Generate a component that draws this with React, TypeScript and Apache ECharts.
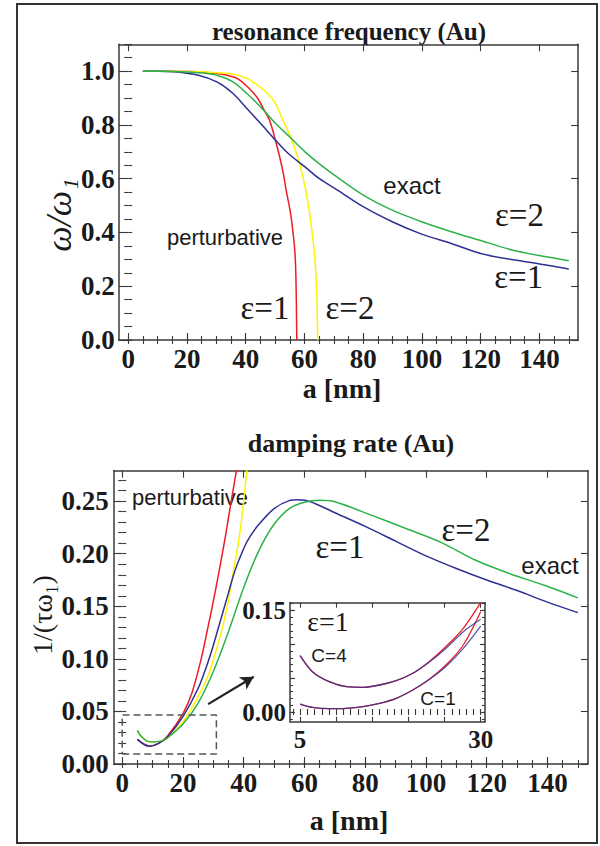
import React, { useEffect, useRef } from "react";
import * as echarts from "echarts";

// ---------- data: resonance frequency (top panel) ----------
const freqPertEps1: [number, number][] = [
  [5, 1], [10, 1], [15, 1], [20, 0.999], [25, 0.997], [30.2, 0.991], [35.7, 0.979], [38, 0.967],
  [40.4, 0.944], [43.9, 0.902], [46.3, 0.855], [48.1, 0.818], [49.2, 0.78], [50.4, 0.731],
  [51.6, 0.68], [52.8, 0.62], [53.9, 0.55], [55.1, 0.483], [55.9, 0.42], [56.7, 0.335],
  [57.1, 0.235], [57.4, 0],
];
const freqPertEps2: [number, number][] = [
  [5, 1], [15, 1], [25, 0.998], [30.2, 0.994], [35.7, 0.989], [40.4, 0.973], [46.3, 0.929],
  [49.8, 0.886], [52.2, 0.83], [54.5, 0.775], [56.5, 0.72], [58, 0.67], [59.2, 0.62],
  [60.4, 0.558], [61.6, 0.483], [62.8, 0.384], [63.6, 0.297], [64.2, 0.173], [64.5, 0],
];
const freqExactEps1: [number, number][] = [
  [5, 1], [10, 1], [15.7, 0.998], [23.9, 0.985], [30.2, 0.96], [35.7, 0.917], [40.4, 0.861],
  [45.1, 0.805], [50.2, 0.743], [54.5, 0.694], [60.2, 0.644], [65.1, 0.6], [70.2, 0.565],
  [80, 0.496], [89.9, 0.44], [99.9, 0.394], [110, 0.359], [120, 0.322], [130, 0.3],
  [140, 0.283], [150, 0.264],
];
const freqExactEps2: [number, number][] = [
  [5, 1], [15, 0.999], [20, 0.997], [25, 0.993], [30.2, 0.985], [35.7, 0.96], [40.4, 0.917],
  [45.1, 0.867], [50.2, 0.805], [55, 0.755], [60.2, 0.7], [65.1, 0.655], [70.2, 0.613],
  [80, 0.539], [89.9, 0.483], [99.9, 0.44], [110, 0.403], [120, 0.37], [130, 0.337],
  [140, 0.314], [150, 0.295],
];

// ---------- data: damping rate (bottom panel) ----------
const dampPertEps1: [number, number][] = [
  [5, 0.0234], [7, 0.019], [9, 0.017], [12, 0.0196], [15, 0.027], [20, 0.048], [23, 0.068],
  [26, 0.1], [28, 0.127], [30, 0.155], [32, 0.185], [34, 0.217], [36, 0.252], [37.6, 0.279],
  [38.5, 0.295],
];
const dampPertEps2: [number, number][] = [
  [5, 0.032], [6, 0.027], [8, 0.022], [10, 0.021], [13, 0.022], [15, 0.025], [20, 0.04],
  [25, 0.064], [28, 0.082], [30, 0.099], [33, 0.13], [35, 0.156], [37, 0.19], [38.5, 0.215],
  [40, 0.25], [41, 0.279], [41.6, 0.295],
];
const dampExactEps1: [number, number][] = [
  [5, 0.0234], [7, 0.019], [9, 0.017], [12, 0.0196], [15, 0.026], [20, 0.045], [25, 0.072],
  [28, 0.095], [30, 0.113], [33, 0.143], [35, 0.163], [37, 0.183], [40, 0.205], [42, 0.216],
  [45, 0.228], [50, 0.243], [55, 0.2505], [58, 0.2513], [62, 0.2495], [70, 0.239], [80, 0.226],
  [90, 0.212], [100, 0.198], [110, 0.186], [120, 0.175], [130, 0.165], [140, 0.154], [150, 0.144],
];
const dampExactEps2: [number, number][] = [
  [5, 0.032], [6, 0.027], [8, 0.022], [10, 0.021], [13, 0.022], [15, 0.025], [20, 0.038],
  [25, 0.058], [30, 0.088], [35, 0.126], [40, 0.168], [45, 0.203], [50, 0.228], [55, 0.243],
  [60, 0.249], [65, 0.2509], [70, 0.2495], [82, 0.2367], [93.4, 0.224], [104.8, 0.211],
  [116.2, 0.194], [127.6, 0.181], [139, 0.17], [150, 0.158],
];
const zoomBox: [number, number][] = [[0, 0.0095], [31, 0.0095], [31, 0.0466], [0, 0.0466], [0, 0.0095]];
const arrowFrom: [number, number] = [28.3, 0.057];
const arrowTo: [number, number] = [43.3, 0.083];

// ---------- data: inset (eps = 1) ----------
const insetC4Pert: [number, number][] = [
  [5, 0.0832], [6.7, 0.0596], [9.03, 0.0448], [11.4, 0.0374], [13.7, 0.0365], [16, 0.0399],
  [18.3, 0.0463], [20.6, 0.0572], [22.9, 0.0748], [25.3, 0.098], [27.6, 0.1237], [30, 0.1615],
];
const insetC4Exact: [number, number][] = [
  [5, 0.0832], [6.7, 0.0596], [9.03, 0.0448], [11.4, 0.0374], [13.7, 0.0365], [16, 0.0399],
  [18.3, 0.0463], [20.6, 0.0572], [22.9, 0.0738], [25.3, 0.095], [27.6, 0.1187], [30, 0.137],
];
const insetC1Pert: [number, number][] = [
  [5, 0.0118], [6.7, 0.0069], [9.03, 0.0049], [11.4, 0.0054], [13.7, 0.0079], [16, 0.0128],
  [18.3, 0.0202], [20.6, 0.0325], [22.9, 0.0483], [25.3, 0.0705], [27.6, 0.099], [30, 0.148],
];
const insetC1Exact: [number, number][] = [
  [5, 0.0118], [6.7, 0.0069], [9.03, 0.0049], [11.4, 0.0054], [13.7, 0.0079], [16, 0.0128],
  [18.3, 0.0202], [20.6, 0.0325], [22.9, 0.0483], [25.3, 0.0685], [27.6, 0.094], [30, 0.127],
];

// ---------- ticks ----------
const aTicks = [0, 20, 40, 60, 80, 100, 120, 140];
const freqTicks = [0, 0.2, 0.4, 0.6, 0.8, 1.0];
const dampTicks = [0, 0.05, 0.1, 0.15, 0.2, 0.25];
const insetXLabels = [5, 30];
const insetXMajor = [5, 10, 15, 20, 25, 30];
const insetYLabels = [0, 0.15];
const insetYMajor = [0, 0.05, 0.1, 0.15];

const steps = (from: number, to: number, step: number) => {
  const out: number[] = [];
  const n = Math.round((to - from) / step);
  for (let i = 0; i <= n; i++) out.push(Math.round((from + i * step) * 10000) / 10000);
  return out;
};

const SERIF = "'Liberation Serif','Times New Roman',Times,serif";
const SANS = "'Liberation Sans',Arial,Helvetica,sans-serif";
const FRAME = "#3a3a3a";
const RED = "#ee1c24";
const YELLOW = "#fff200";
const GREEN = "#2db34a";
const BLUE = "#2e3192";

function axisSet(
  dim: "x" | "y", gridIndex: number, min: number, max: number,
  majors: number[], minors: number[], labels: number[], fmt: (v: number) => string,
  fontSize: number, majorLen: number, minorLen: number, margin: number
) {
  const pos = dim === "x" ? ["bottom", "top"] : ["left", "right"];
  const base = {
    type: "value", gridIndex, min, max, splitLine: { show: false },
    axisLine: { show: true, onZero: false, lineStyle: { color: FRAME, width: 1.5 } },
  };
  const tick = (vals: number[], len: number) => ({
    show: true, inside: true, length: len, customValues: vals, lineStyle: { color: FRAME, width: 1.1 },
  });
  return [
    {
      ...base, position: pos[0], axisTick: tick(majors, majorLen),
      axisLabel: {
        show: true, customValues: labels, formatter: fmt, fontFamily: SERIF, fontWeight: "bold",
        fontSize, color: "#1a1a1a", margin,
      },
    },
    { ...base, position: pos[0], axisLine: { show: false }, axisTick: tick(minors, minorLen), axisLabel: { show: false } },
    { ...base, position: pos[1], axisTick: tick(majors, majorLen), axisLabel: { show: false } },
    { ...base, position: pos[1], axisLine: { show: false }, axisTick: tick(minors, minorLen), axisLabel: { show: false } },
  ];
}

function curve(data: [number, number][], color: string, xi: number, width = 1.5, opacity = 1) {
  return {
    type: "line", data, xAxisIndex: xi, yAxisIndex: xi, showSymbol: false, symbol: "none",
    smooth: 0.3, clip: true, lineStyle: { color, width, opacity }, silent: true,
  };
}

function txt(text: string, x: number, y: number, size: number, family: string, extra: any = {}) {
  return {
    type: "text", x, y, silent: true, ...(extra.rotation ? { rotation: extra.rotation } : {}),
    style: {
      text, fontSize: size, fontFamily: family, fontWeight: extra.weight || "normal",
      fontStyle: extra.style || "normal", fill: "#1a1a1a", align: "center", verticalAlign: "middle",
    },
  };
}

export default function App() {
  const ref = useRef<HTMLDivElement>(null);
  useEffect(() => {
    if (!ref.current) return;
    const chart = echarts.init(ref.current, undefined, { renderer: "svg" });
    const f1 = (v: number) => v.toFixed(1);
    const f2 = (v: number) => v.toFixed(2);
    const f0 = (v: number) => String(v);

    const xAxes = [
      ...axisSet("x", 0, -3.2, 153.2, aTicks, steps(0, 150, 5), aTicks, f0, 27, 7, 4, 5),
      ...axisSet("x", 1, -2.8, 153.3, aTicks, steps(0, 150, 5), aTicks, f0, 27, 7, 4, 5),
      ...axisSet("x", 2, 3.6, 30.6, insetXMajor, steps(4, 30, 1), insetXLabels, f0, 25, 5, 3, 5),
    ];
    const yAxes = [
      ...axisSet("y", 0, 0, 1.1, freqTicks, steps(0, 1.1, 0.05), freqTicks, f1, 27, 7, 4, 4),
      ...axisSet("y", 1, 0, 0.279, dampTicks, steps(0, 0.27, 0.01), dampTicks, f2, 27, 7, 4, 5),
      ...axisSet("y", 2, -0.0143, 0.1615, insetYMajor, steps(-0.01, 0.16, 0.01), insetYLabels, f2, 25, 5, 3, 4),
    ];

    chart.setOption({
      animation: false,
      backgroundColor: "#ffffff",
      grid: [
        { left: 118.8, top: 44.3, width: 459.4, height: 295.7 },
        { left: 113.7, top: 470.7, width: 474.2, height: 293.3 },
        { left: 290, top: 602.7, width: 195, height: 119, show: true, backgroundColor: "#ffffff", borderWidth: 0 },
      ],
      xAxis: xAxes,
      yAxis: yAxes,
      series: [
        curve(freqPertEps1, RED, 0),
        curve(freqPertEps2, YELLOW, 0),
        curve(freqExactEps1, BLUE, 0),
        curve(freqExactEps2, GREEN, 0),
        curve(dampPertEps1, RED, 4),
        curve(dampPertEps2, YELLOW, 4),
        curve(dampExactEps1, BLUE, 4),
        curve(dampExactEps2, GREEN, 4),
        {
          type: "line", data: zoomBox, xAxisIndex: 4, yAxisIndex: 4, showSymbol: false, symbol: "none",
          lineStyle: { color: "#555", width: 1.5, type: [7, 4] }, silent: true,
        },
        {
          type: "line", data: [], xAxisIndex: 4, yAxisIndex: 4, silent: true,
          markLine: {
            silent: true, symbol: ["none", "arrow"], symbolSize: [11, 13], animation: false,
            label: { show: false },
            lineStyle: { color: "#222", width: 2.2, type: "solid" },
            data: [[{ coord: arrowFrom }, { coord: arrowTo }]],
          },
        },
        curve(insetC4Pert, RED, 8, 1.3),
        curve(insetC1Pert, RED, 8, 1.3),
        curve(insetC4Exact, BLUE, 8, 1.3, 0.8),
        curve(insetC1Exact, BLUE, 8, 1.3, 0.8),
      ],
      graphic: [
        {
          type: "rect", silent: true, shape: { x: 17, y: 4, width: 580, height: 839 },
          style: { fill: "none", stroke: "#333", lineWidth: 2 },
        },
        txt("resonance frequency (Au)", 349, 31, 25, SERIF, { weight: "bold" }),
        txt("damping rate (Au)", 351, 443, 26, SERIF, { weight: "bold" }),
        txt("a [nm]", 342, 388, 28, SERIF, { weight: "bold" }),
        txt("a [nm]", 349, 820, 28, SERIF, { weight: "bold" }),
        txt("ω/ω₁", 59, 215, 36, SERIF, { style: "italic", rotation: Math.PI / 2 }),
        txt("1/(τω₁)", 42, 615, 28, SERIF, { rotation: Math.PI / 2 }),
        txt("perturbative", 225, 237, 22, SANS),
        txt("exact", 412, 185, 24, SANS),
        txt("ε=2", 519.5, 215, 33, SERIF),
        txt("ε=1", 518.7, 277, 33, SERIF),
        txt("ε=1", 265, 308, 33, SERIF),
        txt("ε=2", 350, 308, 33, SERIF),
        txt("perturbative", 190, 497, 22, SANS),
        txt("ε=1", 340, 546.5, 33, SERIF),
        txt("ε=2", 466, 530, 33, SERIF),
        txt("exact", 550, 565, 24, SANS),
        txt("ε=1", 328, 621.5, 28, SERIF),
        txt("C=4", 329, 655, 19, SANS),
        txt("C=1", 438, 698, 19, SANS),
      ],
    });
    return () => chart.dispose();
  }, []);
  return (
    <div
      ref={ref}
      style={{ position: "absolute", left: 0, top: 0, width: 600, height: 846, background: "#fff" }}
    />
  );
}
